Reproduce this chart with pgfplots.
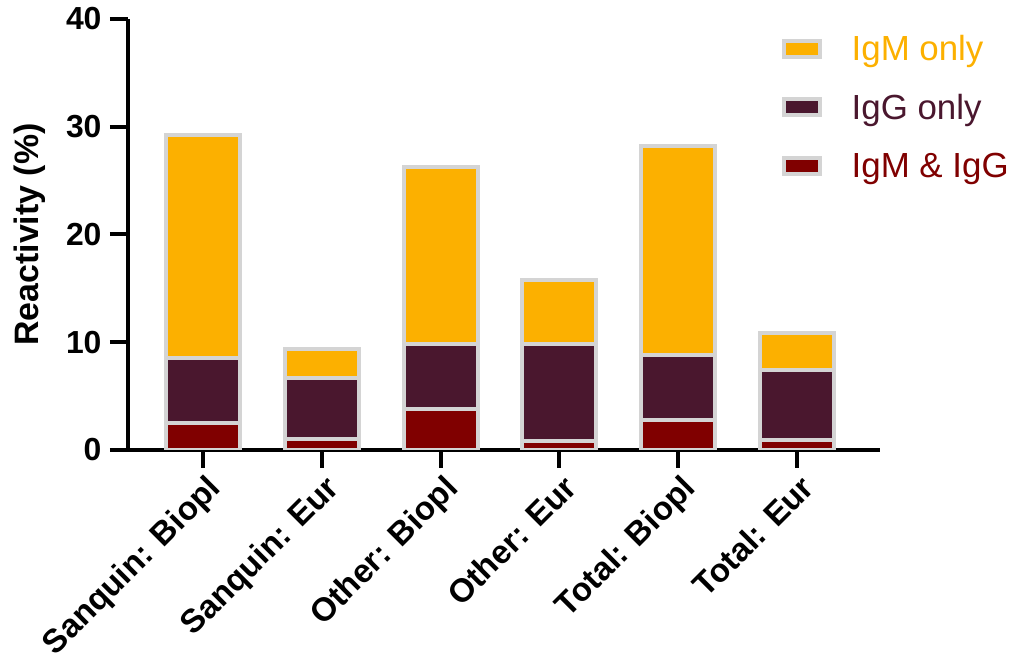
\documentclass[border=0pt]{standalone}
\usepackage{pgfplots}
\pgfplotsset{compat=1.18}
\usepackage{fontspec}
\setmainfont{Liberation Sans}
\definecolor{cyel}{HTML}{FCB000}
\definecolor{cpur}{HTML}{4A172E}
\definecolor{cred}{HTML}{800000}
\definecolor{cgray}{HTML}{D4D4D4}
\begin{document}
\begin{tikzpicture}[x=1bp,y=1bp]
\useasboundingbox (0,0) rectangle (1021,663);
\begin{axis}[
  at={(128bp,213bp)}, anchor=south west,
  scale only axis, width=752bp, height=431bp,
  xmin=-0.631, xmax=5.70, ymin=0, ymax=40,
  ybar stacked, bar width=74bp,
  axis x line*=bottom, axis y line*=left,
  axis line style={line width=4bp, black, -},
  xtick={0,1,2,3,4,5},
  xticklabels={Sanquin: Biopl, Sanquin: Eur, Other: Biopl, Other: Eur, Total: Biopl, Total: Eur},
  ytick={0,10,20,30,40},
  tick align=outside, major tick length=18bp,
  tick style={line width=4bp, black},
  /pgf/number format/assume math mode=true,
  yticklabel style={font=\bfseries\fontsize{32}{32}\selectfont, xshift=-5bp},
  xticklabel style={font=\bfseries\fontsize{33}{33}\selectfont, rotate=45, anchor=north east, inner sep=2bp, yshift=-3bp},
  ylabel={\bfseries Reactivity (\%)},
  ylabel style={font=\fontsize{34}{34}\selectfont, at={(axis description cs:-0.131,0.5)}, anchor=center},
  legend style={draw=none, fill=none, at={(axis description cs:0.865,1.0)}, anchor=north west, yshift=-12bp,
    font=\fontsize{35}{35}\selectfont, row sep=28bp, legend cell align=left},
  legend image code/.code={\draw[#1, line width=4bp] (0bp,-8bp) rectangle (36bp,8bp); \path (64bp,0bp);},
  reverse legend,
  every axis plot/.append style={draw=cgray, line width=4bp},
]
\addplot[fill=cred] coordinates {(0,2.5) (1,1.0) (2,3.8) (3,0.85) (4,2.8) (5,0.95)};
\addlegendentry{\textcolor{cred}{IgM \& IgG}}
\addplot[fill=cpur] coordinates {(0,6.0) (1,5.7) (2,6.0) (3,9.0) (4,6.05) (5,6.45)};
\addlegendentry{\textcolor{cpur}{IgG only}}
\addplot[fill=cyel] coordinates {(0,20.7) (1,2.65) (2,16.5) (3,5.95) (4,19.4) (5,3.45)};
\addlegendentry{\textcolor{cyel}{IgM only}}
\end{axis}
\end{tikzpicture}
\end{document}
